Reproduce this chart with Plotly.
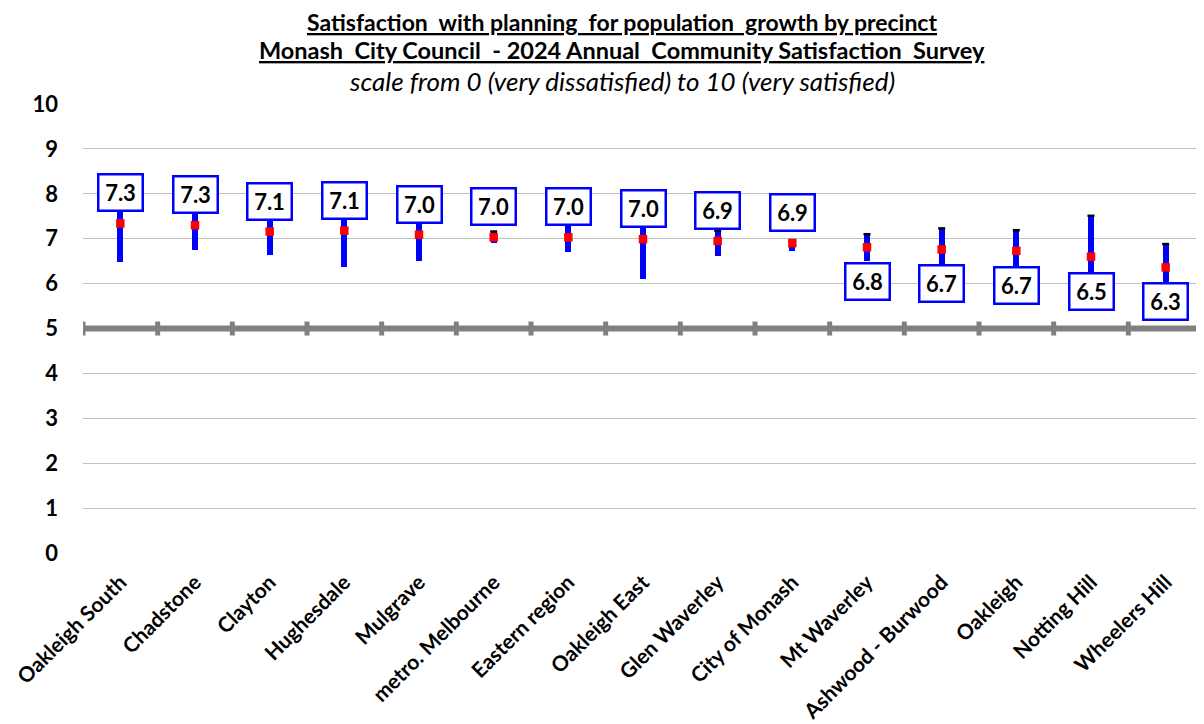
import plotly.graph_objects as go

categories = ["Oakleigh South", "Chadstone", "Clayton", "Hughesdale", "Mulgrave",
              "metro. Melbourne", "Eastern region", "Oakleigh East", "Glen Waverley",
              "City of Monash", "Mt Waverley", "Ashwood - Burwood", "Oakleigh",
              "Notting Hill", "Wheelers Hill"]
means = [7.34, 7.30, 7.16, 7.18, 7.09, 7.03, 7.03, 6.99, 6.95, 6.90, 6.81, 6.76, 6.73, 6.60, 6.36]
lows = [6.49, 6.75, 6.63, 6.37, 6.50, 6.90, 6.71, 6.10, 6.62, 6.73, 6.50, 6.29, 6.27, 5.69, 5.84]
highs = [8.19, 7.85, 7.69, 7.99, 7.68, 7.16, 7.36, 7.88, 7.18, 6.97, 7.10, 7.23, 7.19, 7.51, 6.88]
labels = [7.3, 7.3, 7.1, 7.1, 7.0, 7.0, 7.0, 7.0, 6.9, 6.9, 6.8, 6.7, 6.7, 6.5, 6.3]
reference_category = "City of Monash"
axis_cross = 5
y_ticks = list(range(0, 11))

FONT = "Lato"
BLUE = "#0000FF"

fig = go.Figure()

# confidence range bars
fig.add_trace(go.Bar(
    x=categories, y=[h - l for h, l in zip(highs, lows)], base=lows,
    width=0.08, marker=dict(color=BLUE, line=dict(width=0)),
    hoverinfo="skip", showlegend=False))

# small black cap at the upper bound
fig.add_trace(go.Scatter(
    x=categories, y=highs, mode="markers",
    marker=dict(symbol="line-ew", size=5, line=dict(color="black", width=2.5)),
    hoverinfo="skip", showlegend=False))

# mean markers
fig.add_trace(go.Scatter(
    x=categories, y=means, mode="markers",
    marker=dict(symbol="square", size=8.5, color="#FF0000", line=dict(width=0)),
    hoverinfo="skip", showlegend=False))

ref_mean = means[categories.index(reference_category)]

annotations = []
for c, m, lab in zip(categories, means, labels):
    above = m >= ref_mean
    annotations.append(dict(
        x=c, y=m, xref="x", yref="y", text=f"{lab:.1f}", showarrow=False,
        font=dict(family=FONT, size=22, color="black", weight="bold"),
        bgcolor="white", bordercolor=BLUE, borderwidth=2.5, borderpad=1,
        width=40, height=32,
        yanchor="bottom" if above else "top",
        yshift=11 if above else -15))

# titles
annotations += [
    dict(xref="paper", yref="paper", x=0.481, y=1.182, xanchor="center", yanchor="middle",
         showarrow=False,
         text="<u>Satisfaction  with planning  for population  growth by precinct</u>",
         font=dict(family=FONT, size=23, color="black", weight="bold")),
    dict(xref="paper", yref="paper", x=0.481, y=1.121, xanchor="center", yanchor="middle",
         showarrow=False,
         text="<u>Monash  City Council  - 2024 Annual  Community Satisfaction  Survey</u>",
         font=dict(family=FONT, size=23.5, color="black", weight="bold")),
    dict(xref="paper", yref="paper", x=0.481, y=1.052, xanchor="center", yanchor="middle",
         showarrow=False,
         text="<i>scale from 0 (very dissatisfied) to 10 (very satisfied)</i>",
         font=dict(family=FONT, size=26, color="black")),
]

# horizontal axis crossing at 5 with category-boundary tick marks
n = len(categories)
shapes = [dict(type="line", xref="x", yref="y", x0=-0.5, x1=n - 0.5,
               y0=axis_cross, y1=axis_cross, line=dict(color="#808080", width=6), layer="above")]
for i in range(n + 1):
    shapes.append(dict(type="line", xref="x", yref="y", ysizemode="pixel", yanchor=axis_cross,
                       x0=i - 0.5, x1=i - 0.5, y0=-7, y1=7,
                       line=dict(color="#808080", width=5), layer="above"))

# page body has an 8px default margin, so the figure is sized to fit the window
fig.update_layout(
    width=1196, height=716,
    margin=dict(l=75, r=1, t=96, b=171, autoexpand=False),
    paper_bgcolor="white", plot_bgcolor="white",
    annotations=annotations, shapes=shapes,
    bargap=0,
    xaxis=dict(range=[-0.5, n - 0.5], tickangle=-45, showgrid=False, zeroline=False,
               showline=False, ticks="", ticklabelstandoff=12, automargin=False,
               tickfont=dict(family=FONT, size=21, color="black", weight="bold")),
    yaxis=dict(range=[0, 10], tickvals=y_ticks, showgrid=True, gridcolor="#C0C0C0",
               gridwidth=1, zeroline=False, showline=False, ticks="",
               ticklabelstandoff=24, automargin=False,
               tickfont=dict(family=FONT, size=22, color="black", weight="bold")),
)

fig.write_html("out.html")
